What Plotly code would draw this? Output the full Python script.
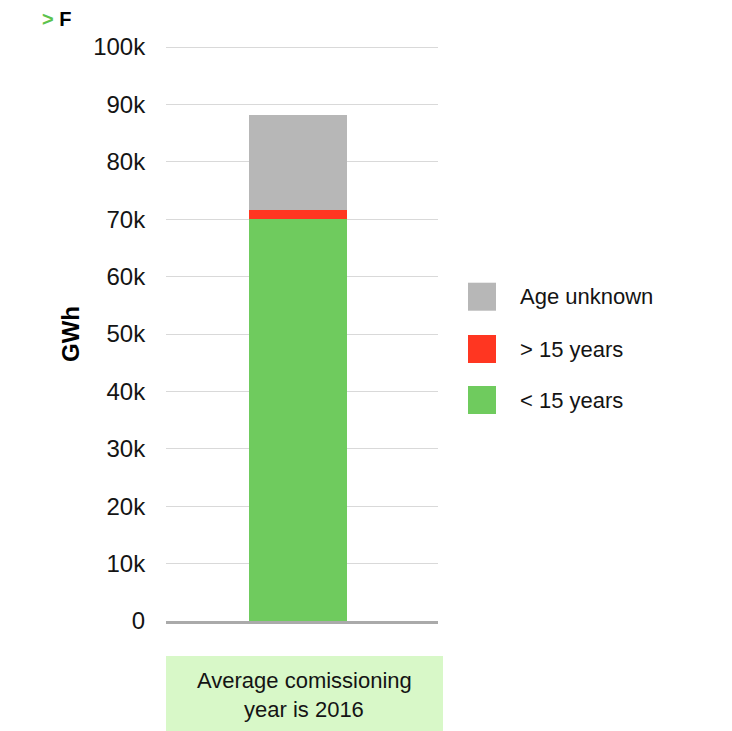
import plotly.graph_objects as go

# Generation by commissioning age, GWh
series_names = ["< 15 years", "> 15 years", "Age unknown"]
series_values = [70000, 1600, 16550]
series_colors = ["#6fcb5e", "#ff3621", "#b7b7b7"]

# Y axis ticks
tick_values = [0, 10000, 20000, 30000, 40000, 50000, 60000, 70000, 80000, 90000, 100000]
tick_labels = ["0", "10k", "20k", "30k", "40k", "50k", "60k", "70k", "80k", "90k", "100k"]

avg_year = 2016

W, H = 732, 731
L, R, T, B = 166, 438, 45, 621
pw, ph = R - L, B - T
Y_MAX = 100000 * (B - T) / (B - 47)


def px_x(x):
    return (x - L) / pw


def px_y(y):
    return (B - y) / ph


FONT = "Arial"
TXT = "#141414"

fig = go.Figure()
for name, val, col in zip(series_names, series_values, series_colors):
    fig.add_trace(go.Bar(
        x=[0], y=[val], name=name, width=0.36,
        marker=dict(color=col, line=dict(width=0)),
        showlegend=False, hoverinfo="y+name",
    ))

shapes = []
annotations = []

# Legend, top entry = last stacked series
legend_rows = [296.7, 349.0, 400.0]
for row_y, name, col in zip(legend_rows, series_names[::-1], series_colors[::-1]):
    shapes.append(dict(
        type="rect", xref="paper", yref="paper",
        x0=px_x(468), x1=px_x(496), y0=px_y(row_y + 14), y1=px_y(row_y - 14),
        fillcolor=col, line=dict(width=0), layer="above",
    ))
    annotations.append(dict(
        text=name, xref="paper", yref="paper", x=px_x(518), y=px_y(row_y),
        xanchor="left", yanchor="middle", showarrow=False,
        font=dict(family=FONT, size=22, color=TXT),
    ))

# Caption box under the bar, two lines meeting at the box's text midline
shapes.append(dict(
    type="rect", xref="paper", yref="paper",
    x0=px_x(166), x1=px_x(443), y0=px_y(731), y1=px_y(656),
    fillcolor="#d8f8c8", line=dict(width=0), layer="below",
))
annotations.append(dict(
    text="Average comissioning", xref="paper", yref="paper",
    x=px_x(304), y=px_y(695), xanchor="center", yanchor="bottom", showarrow=False,
    font=dict(family=FONT, size=22, color=TXT),
))
annotations.append(dict(
    text=f"year is {avg_year}", xref="paper", yref="paper",
    x=px_x(304), y=px_y(695), xanchor="center", yanchor="top", showarrow=False,
    font=dict(family=FONT, size=22, color=TXT),
))

# Axis title
annotations.append(dict(
    text="<b>GWh</b>", xref="paper", yref="paper",
    x=px_x(70), y=px_y(334), xanchor="center", yanchor="middle", showarrow=False,
    textangle=-90, font=dict(family=FONT, size=24, color="#000"),
))

# Corner marker
annotations.append(dict(
    text="<b><span style='color:#5cc24c'>&gt;</span> F</b>", xref="paper", yref="paper",
    x=px_x(40), y=px_y(19), xanchor="left", yanchor="middle", showarrow=False,
    font=dict(family=FONT, size=20, color="#000"),
))

fig.update_layout(
    width=W, height=H,
    margin=dict(l=L, r=W - R, t=T, b=H - B, pad=0),
    barmode="stack",
    paper_bgcolor="white", plot_bgcolor="white",
    shapes=shapes, annotations=annotations,
    xaxis=dict(
        range=[-0.485, 0.515], showticklabels=False, showgrid=False, zeroline=False,
        showline=True, linecolor="#aaaaaa", linewidth=3, ticks="", fixedrange=True,
    ),
    yaxis=dict(
        range=[0, Y_MAX], tickvals=tick_values, ticktext=tick_labels,
        showgrid=True, gridcolor="#d9d9d9", gridwidth=1, zeroline=False,
        showline=False, ticks="outside", ticklen=15, tickcolor="rgba(0,0,0,0)",
        tickfont=dict(family=FONT, size=24, color=TXT), fixedrange=True,
    ),
    font=dict(family=FONT),
)

fig.write_html("out.html")
